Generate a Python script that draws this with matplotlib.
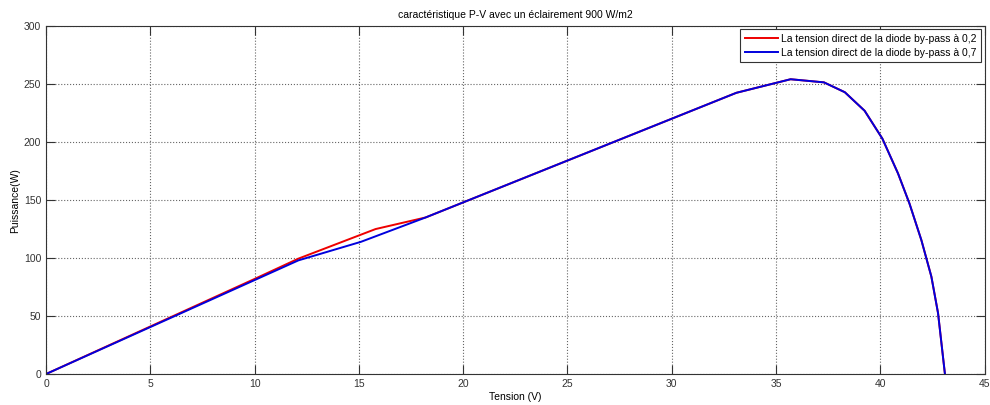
import matplotlib
matplotlib.use("Agg")
from matplotlib import pyplot as plt

# courbe commune (apres le coude) et parties differentes
v_common = [33.1, 35.7, 37.3, 38.3, 39.25, 40.1, 40.85, 41.4, 41.97, 42.45, 42.77, 43.1]
p_common = [242.5, 254.2, 251.5, 243.0, 227.0, 203.0, 173.0, 147.0, 115.5, 84.0, 52.5, 0.0]

v_red = [0, 10, 12.1, 15.8, 18.2]
p_red = [0, 82, 99.5, 125, 135]

v_blue = [0, 10, 12.1, 15.1, 18.2]
p_blue = [0, 81, 98, 114, 135]

plt.rcParams["font.family"] = ["Liberation Sans", "DejaVu Sans"]

fig = plt.figure(figsize=(9.9, 4.05), dpi=100)
ax = fig.add_axes([0.0465, 0.0765, 0.948, 0.859])

ax.plot(v_red + v_common, p_red + p_common, color="#ee0000", lw=1.4,
        label="La tension direct de la diode by-pass à 0,2")
ax.plot(v_blue + v_common, p_blue + p_common, color="#0000dd", lw=1.4,
        label="La tension direct de la diode by-pass à 0,7")

ax.set_xlim(0, 45)
ax.set_ylim(0, 300)
ax.set_xticks(range(0, 46, 5))
ax.set_yticks(range(0, 301, 50))
ax.tick_params(direction="in", labelsize=7.5, length=6.5, top=True, right=True,
               labelcolor="#333333", color="#333333")
for s in ax.spines.values():
    s.set_color("#333333")
ax.grid(True, linestyle=":", color="#666666", lw=0.8)

ax.set_title("caractéristique P-V avec un éclairement 900 W/m2", fontsize=7.5, pad=6)
ax.set_xlabel("Tension (V)", fontsize=7.5, labelpad=2)
ax.set_ylabel("Puissance(W)", fontsize=7.5, labelpad=3)

leg = ax.legend(loc="upper right", fontsize=7.5, fancybox=False, framealpha=1,
                borderaxespad=0.3, handlelength=3.2, handletextpad=0.3,
                borderpad=0.45, labelspacing=0.35)
leg.get_frame().set_edgecolor("#333333")
leg.get_frame().set_linewidth(0.8)

plt.savefig("out.png", dpi=100)
